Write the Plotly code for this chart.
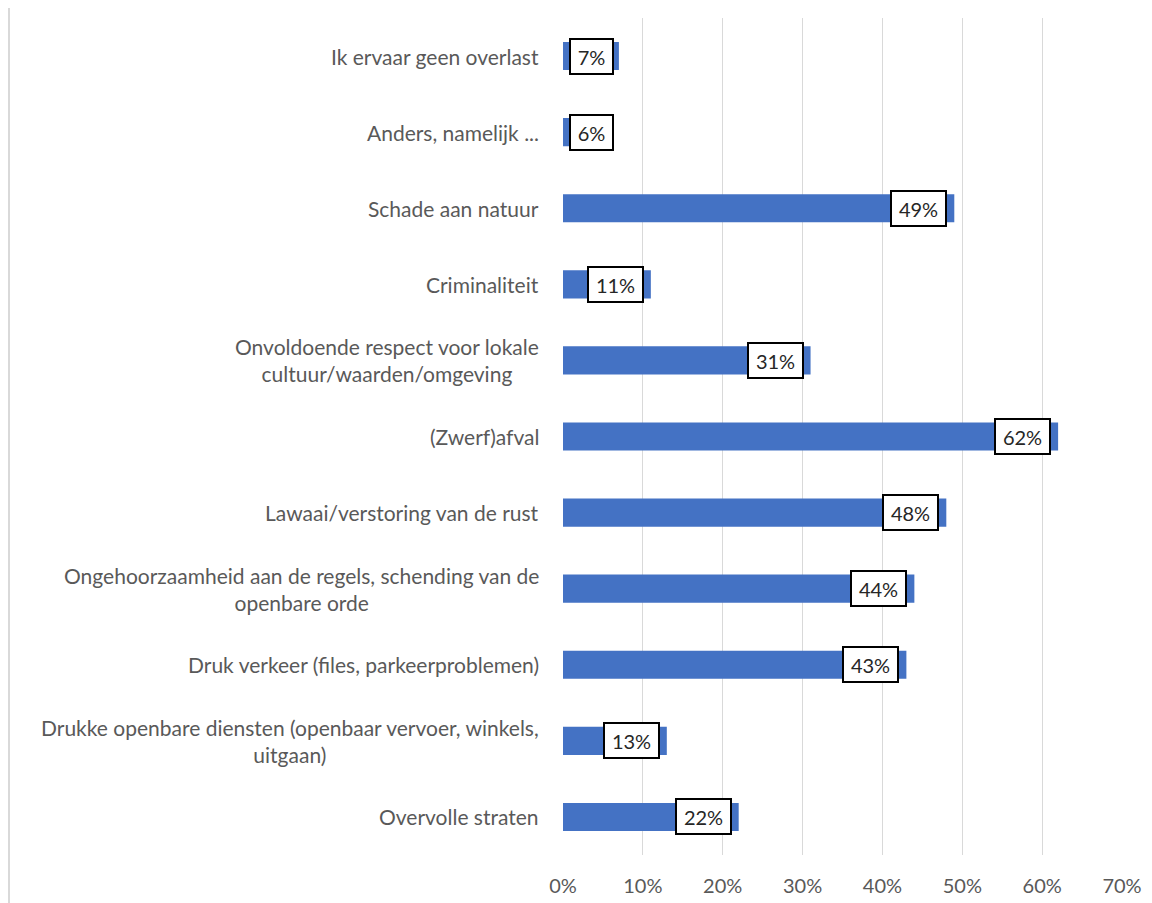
import plotly.graph_objects as go

categories = [
    "Ik ervaar geen overlast",
    "Anders, namelijk ...",
    "Schade aan natuur",
    "Criminaliteit",
    "Onvoldoende respect voor lokale<br>cultuur/waarden/omgeving",
    "(Zwerf)afval",
    "Lawaai/verstoring van de rust",
    "Ongehoorzaamheid aan de regels, schending van de<br>openbare orde",
    "Druk verkeer (files, parkeerproblemen)",
    "Drukke openbare diensten (openbaar vervoer, winkels,<br>uitgaan)",
    "Overvolle straten",
]
values = [7, 6, 49, 11, 31, 62, 48, 44, 43, 13, 22]
tick_vals = [0, 10, 20, 30, 40, 50, 60, 70]
tick_text = ["0%", "10%", "20%", "30%", "40%", "50%", "60%", "70%"]

FONT = "Lato"
GRAY = "#595959"

# page body has an 8px margin: figure origin is at (8, 8) in the window
OFF = 8
W, H = 1152 - OFF, 903 - OFF
L, R = 563 - OFF, 1122 - OFF
T, B = 18 - OFF, 855 - OFF
XMAX = 70
pw = R - L
ph = B - T

fig = go.Figure(go.Bar(
    x=values, y=categories, orientation="h",
    marker=dict(color="#4472C4", line=dict(width=0)),
    width=0.37, hoverinfo="skip",
))

annotations = []
for c, v in zip(categories, values):
    label = f"{v}%"
    inner_w = 37 if len(label) < 3 else 49
    box_w = inner_w + 8
    bar_px = v / XMAX * pw
    if bar_px - 7 - box_w < 6:
        pos = dict(x=0, xanchor="left", xshift=6)
    else:
        pos = dict(x=v, xanchor="right", xshift=-7)
    annotations.append(dict(
        y=c, xref="x", yref="y", text=label, showarrow=False,
        yanchor="middle",
        font=dict(family=FONT, size=20, color="#262626"),
        width=inner_w, height=29, align="center",
        bgcolor="white", bordercolor="black", borderwidth=2, borderpad=2,
        **pos,
    ))
    annotations.append(dict(
        x=0, y=c, xref="paper", yref="y", text=c, showarrow=False,
        xanchor="right", yanchor="middle", xshift=-22, align="center",
        font=dict(family=FONT, size=21, color=GRAY),
    ))

fig.update_layout(
    width=W, height=H,
    margin=dict(l=L, r=W - R, t=T, b=H - B, autoexpand=False),
    paper_bgcolor="white", plot_bgcolor="white",
    showlegend=False,
    annotations=annotations,
    xaxis=dict(
        range=[0, XMAX], tickvals=tick_vals, ticktext=tick_text,
        showgrid=True, gridcolor="#d9d9d9", gridwidth=1,
        zeroline=False, showline=False, ticks="", automargin=False,
        ticklabelstandoff=17,
        tickfont=dict(family=FONT, size=20, color=GRAY),
    ),
    yaxis=dict(
        autorange="reversed", showticklabels=False, showgrid=False,
        zeroline=False, showline=False, ticks="", automargin=False,
    ),
    shapes=[dict(type="line", xref="paper", yref="paper",
                 x0=(9 - OFF - L) / pw, x1=(9 - OFF - L) / pw,
                 y0=(B - (4 - OFF)) / ph, y1=(B - H) / ph,
                 line=dict(color="#d9d9d9", width=2))],
)

fig.write_html("out.html")
